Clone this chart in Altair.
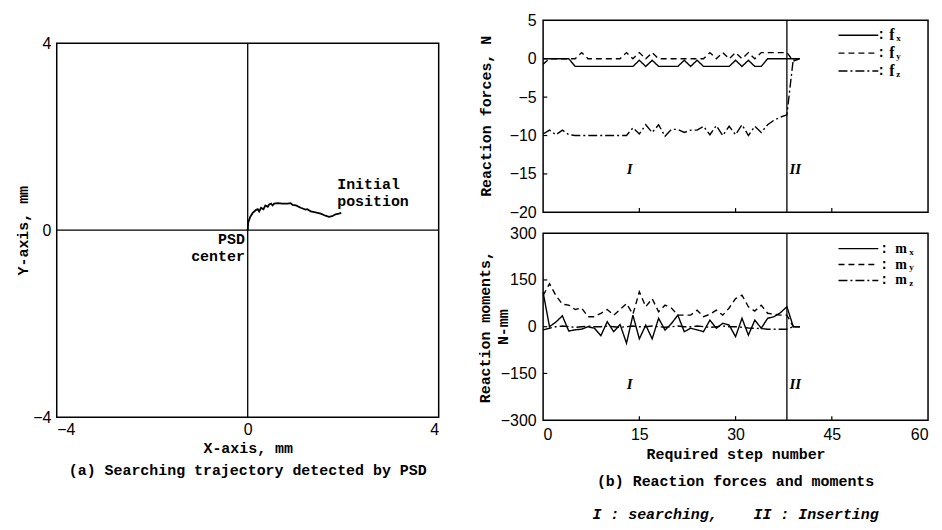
import altair as alt
import pandas as pd

# ---------------- data ----------------
# (a) trajectory detected by PSD (mm)
traj_x = [0.0, 0.01, 0.05, 0.105, 0.17, 0.21, 0.24, 0.28, 0.33, 0.37, 0.42, 0.45, 0.49, 0.52, 0.556,
          0.625, 0.73, 0.83, 0.90, 0.94, 1.01, 1.11, 1.21, 1.25, 1.32, 1.42, 1.53, 1.63, 1.70, 1.77,
          1.84, 1.91, 1.96]
traj_y = [0.0, 0.16, 0.28, 0.37, 0.43, 0.45, 0.40, 0.48, 0.45, 0.53, 0.50, 0.55, 0.57, 0.53, 0.57,
          0.58, 0.57, 0.57, 0.58, 0.54, 0.53, 0.48, 0.44, 0.45, 0.40, 0.38, 0.355, 0.31, 0.285, 0.30,
          0.34, 0.355, 0.37]

# (b) reaction forces / moments vs step
steps = list(range(41))
fx = [0, 0, 0, 0, 0, -1, -1, -1, -1, -1, -1, -1, -1, -1, -1, -0.2, -1, -0.2, -1, -1,
      -1, -1, -0.2, -1, -0.2, -1, -1, -1, -1, -1, -0.2, -1, -0.2, -1, -1, 0, 0, 0, 0, 0, 0]
fy = [-0.7, 0, 0, 0, 0, 0, 0.8, 0, 0, 0, 0, 0, 0, 0.8, 0, 0.8, 0, 0.8, 0, 0,
      0, 0, 0, 0, 0, 0, 0.8, 0, 0.8, 0, 0.8, 0, 0.8, 0, 0.8, 0.8, 0.8, 0.8, 0.8, -0.3, 0]
fz = [-9.8, -9.3, -9.9, -9.3, -9.9, -10, -10, -10, -10, -10, -10, -10, -10, -10, -9.0, -9.8, -8.6, -9.6, -8.6, -10.1,
      -9.2, -9.2, -9.6, -9.3, -9.3, -8.8, -9.9, -8.7, -10, -8.8, -9.9, -8.6, -10, -8.8, -9.6, -8.6, -8.0, -7.6, -7.3, 0, 0]
mx = [110, 0, 15, 35, -14, -10, -8, 0, -5, -29, 16, -16, 7, -53, 37, -39, 5, -39, 27, -11,
      10, 37, -16, -5, -10, -16, 21, -5, 11, 5, -32, 27, -27, 21, -5, 27, 32, 45, 64, 0, 0]
my = [100, 138, 100, 72, 69, 55, 60, 32, 32, 43, 55, 37, 55, 74, 40, 112, 64, 90, 48, 69,
      60, 37, 37, 37, 53, 32, 40, 53, 37, 60, 90, 101, 64, 50, 69, 43, 40, 37, 37, 0, 0]
mz = [-10, -5, 0, 2, 0, -2, 0, 2, 0, 0, 2, 0, -2, 0, 2, 0, 0, 2, 0, -2,
      0, 2, 0, 0, 2, 0, -2, 0, 2, 0, 0, -2, -4, -5, -6, -8, -8, -8, -8, 0, 0]

boundary_step = [38]
force_ticks_y = [-15, -10, -5, 0]
moment_ticks_y = [-150, 0, 150]
step_ticks = [15, 30, 45]
region_names = ["I", "II"]
region_steps = [13.5, 39.3]

FONT_T = "Liberation Mono"
FONT_N = "Liberation Sans"
BLACK = "#000000"

# ---------------- (a) left panel ----------------
lx = alt.Scale(domain=[-4, 4], nice=False, zero=False)
ly = alt.Scale(domain=[-4, 4.489], nice=False, zero=False)
ax_lx = alt.Axis(values=[-4, 0, 4], title="X-axis, mm", domain=False, ticks=False, grid=False,
                 labelPadding=4, titlePadding=3, labelFont=FONT_N, labelFontSize=16,
                 titleFont=FONT_T, titleFontSize=15, titleFontWeight="bold", format="d",
                 labelColor=BLACK, titleColor=BLACK)
ax_ly = alt.Axis(values=[-4, 0, 4], title="Y-axis, mm", domain=False, ticks=False, grid=False,
                 labelPadding=6, labelFont=FONT_N, labelFontSize=16, format="d",
                 titleFont=FONT_T, titleFontSize=15, titleFontWeight="bold",
                 titleX=-34, titleY=211, titleAngle=270, titleAlign="center", titleBaseline="middle",
                 labelColor=BLACK, titleColor=BLACK)


def LX(f):
    return alt.X(f, type="quantitative", scale=lx, axis=ax_lx)


def LY(f):
    return alt.Y(f, type="quantitative", scale=ly, axis=ax_ly)


frame = alt.Chart(pd.DataFrame({"x": [-4], "x2": [4], "y": [-4], "y2": [4]})).mark_rect(
    fillOpacity=0, stroke=BLACK, strokeWidth=1.5
).encode(x=LX("x"), x2="x2", y=LY("y"), y2="y2")

vline = alt.Chart(pd.DataFrame({"x": [0], "y": [-4], "y2": [4]})).mark_rule(
    color=BLACK, strokeWidth=1.3).encode(x=LX("x"), y=LY("y"), y2="y2")
hline = alt.Chart(pd.DataFrame({"y": [0], "x": [-4], "x2": [4]})).mark_rule(
    color=BLACK, strokeWidth=1.3).encode(y=LY("y"), x=LX("x"), x2="x2")

traj = alt.Chart(pd.DataFrame({"x": traj_x, "y": traj_y, "i": list(range(len(traj_x)))})).mark_line(
    color=BLACK, strokeWidth=1.8).encode(x=LX("x"), y=LY("y"), order="i:Q")

lab_init = alt.Chart(pd.DataFrame({"x": [1.875, 1.875], "y": [0.99, 0.62], "t": ["Initial", "position"]})).mark_text(
    align="left", baseline="middle", font=FONT_T, fontSize=15, fontWeight="bold", color=BLACK
).encode(x=LX("x"), y=LY("y"), text="t:N")
lab_psd = alt.Chart(pd.DataFrame({"x": [-0.06, -0.06], "y": [-0.19, -0.56], "t": ["PSD", "center"]})).mark_text(
    align="right", baseline="middle", font=FONT_T, fontSize=15, fontWeight="bold", color=BLACK
).encode(x=LX("x"), y=LY("y"), text="t:N")

left = alt.layer(frame, vline, hline, traj, lab_init, lab_psd).properties(
    width=384, height=399,
    view=alt.ViewBackground(stroke="transparent"),
    title=alt.TitleParams("(a) Searching trajectory detected by PSD", orient="bottom", anchor="middle",
                          frame="group", offset=8, font=FONT_T, fontSize=15, fontWeight="bold", color=BLACK),
)

# ---------------- (b) right panels ----------------
sx = alt.Scale(domain=[0, 60], nice=False, zero=False)
fsc = alt.Scale(domain=[-20, 5], nice=False, zero=False)
msc = alt.Scale(domain=[-300, 300], nice=False, zero=False)

ax_force = alt.Axis(values=[-20, -15, -10, -5, 0, 5], title="Reaction forces, N", domain=False, ticks=False,
                    grid=False, labelPadding=7, labelFont=FONT_N, labelFontSize=16, format="d",
                    titleFont=FONT_T, titleFontSize=15, titleFontWeight="bold",
                    titleX=-58, titleY=96, titleAngle=270, titleAlign="center", titleBaseline="middle",
                    labelColor=BLACK, titleColor=BLACK)
ax_mom = alt.Axis(values=[-300, -150, 0, 150, 300], title=["Reaction moments,", "N-mm"], domain=False,
                  ticks=False, grid=False, labelPadding=7, labelFont=FONT_N, labelFontSize=16, format="d",
                  titleFont=FONT_T, titleFontSize=15, titleFontWeight="bold", titleLineHeight=18,
                  titleX=-59, titleY=94, titleAngle=270, titleAlign="center", titleBaseline="middle",
                  labelColor=BLACK, titleColor=BLACK)
ax_step = alt.Axis(values=[0, 15, 30, 45, 60], title="Required step number", domain=False, ticks=False,
                   grid=False, labelPadding=6, titlePadding=5, labelFont=FONT_N, labelFontSize=16,
                   titleFont=FONT_T, titleFontSize=15, titleFontWeight="bold", format="d",
                   labelColor=BLACK, titleColor=BLACK)

dash_solid = [1, 0]
dash_dash = [6, 4]
dash_dot = [9, 3, 2, 3]

force_df = pd.DataFrame({
    "step": steps * 3,
    "value": fx + fy + fz,
    "series": ["fx"] * len(steps) + ["fy"] * len(steps) + ["fz"] * len(steps),
})
mom_df = pd.DataFrame({
    "step": steps * 3,
    "value": mx + my + mz,
    "series": ["mx"] * len(steps) + ["my"] * len(steps) + ["mz"] * len(steps),
})


def panel(df, yscale, yaxis, xaxis, names, ytick_vals, ylo, tick_len_y, legend_y, colon_x, lab_x, sub_dx,
          letter, label_y, letter_size):
    X = lambda f: alt.X(f, type="quantitative", scale=sx, axis=xaxis)
    Y = lambda f: alt.Y(f, type="quantitative", scale=yscale, axis=yaxis)
    lines = alt.Chart(df).mark_line(color=BLACK, strokeWidth=1.4).encode(
        x=X("step"), y=Y("value"),
        strokeDash=alt.StrokeDash("series:N", scale=alt.Scale(domain=names, range=[dash_solid, dash_dash, dash_dot]),
                                  legend=None),
    )
    bound = alt.Chart(pd.DataFrame({"step": boundary_step})).mark_rule(color=BLACK, strokeWidth=1.3).encode(
        x=X("step"))
    xt = alt.Chart(pd.DataFrame({"step": step_ticks, "y": [ylo] * 3, "y2": [ylo + tick_len_y] * 3})).mark_rule(
        color=BLACK, strokeWidth=1.2).encode(x=X("step"), y=Y("y"), y2="y2")
    yt = alt.Chart(pd.DataFrame({"v": ytick_vals, "x": [0] * len(ytick_vals), "x2": [0.65] * len(ytick_vals)})).mark_rule(
        color=BLACK, strokeWidth=1.2).encode(y=Y("v"), x=X("x"), x2="x2")
    regions = alt.Chart(pd.DataFrame({"step": region_steps, "v": [label_y] * 2, "t": region_names})).mark_text(
        font="Liberation Serif", fontStyle="italic", fontWeight="bold", fontSize=15, color=BLACK
    ).encode(x=X("step"), y=Y("v"), text="t:N")
    layers = [lines, bound, xt, yt, regions]
    one = pd.DataFrame({"a": [0]})
    for i, (nm, dsh) in enumerate(zip(["x", "y", "z"], [dash_solid, dash_dash, dash_dot])):
        yy = legend_y[i]
        layers.append(alt.Chart(one).mark_rule(color=BLACK, strokeWidth=1.4, strokeDash=dsh).encode(
            x=alt.value(297), x2=alt.value(337), y=alt.value(yy)))
        layers.append(alt.Chart(one).mark_text(align="center", baseline="middle", font=FONT_T, fontSize=14,
                                               fontWeight="bold", color=BLACK).encode(
            x=alt.value(colon_x), y=alt.value(yy), text=alt.value(":")))
        layers.append(alt.Chart(one).mark_text(align="left", baseline="middle", font="Liberation Serif",
                                               fontSize=letter_size, fontWeight="bold", color=BLACK).encode(
            x=alt.value(lab_x), y=alt.value(yy), text=alt.value(letter)))
        layers.append(alt.Chart(one).mark_text(align="left", baseline="middle", font="Liberation Serif",
                                               fontSize=9, fontWeight="bold", color=BLACK).encode(
            x=alt.value(lab_x + sub_dx), y=alt.value(yy + 3), text=alt.value(nm)))
    return alt.layer(*layers)


top = panel(force_df, fsc, ax_force, None, ["fx", "fy", "fz"], force_ticks_y, -20, 0.55,
            [15, 33, 51], 340, 348, 7, "f", -14.4, 16).properties(width=387, height=193)
bottom = panel(mom_df, msc, ax_mom, ax_step, ["mx", "my", "mz"], moment_ticks_y, -300, 13,
               [15.5, 31.5, 47.5], 343, 354, 14, "m", -185, 14).properties(
    width=387, height=188,
    title=alt.TitleParams("(b) Reaction forces and moments",
                          subtitle="I : searching,\u00a0\u00a0\u00a0\u00a0II : Inserting",
                          orient="bottom", anchor="middle", frame="group", offset=12,
                          font=FONT_T, fontSize=15, fontWeight="bold", color=BLACK,
                          subtitleFont=FONT_T, subtitleFontSize=15, subtitleFontStyle="italic",
                          subtitleFontWeight="bold", subtitleColor=BLACK, subtitlePadding=18),
)

right = alt.vconcat(top, bottom, spacing=21, bounds="flush")

chart = alt.hconcat(left, right, spacing=105, bounds="flush").properties(
    padding={"left": 7, "top": 2, "right": 5, "bottom": 5},
    background="white",
).configure_view(stroke=BLACK, strokeWidth=1.5)

chart.save("out.html", embed_options={"renderer": "svg", "actions": False})
